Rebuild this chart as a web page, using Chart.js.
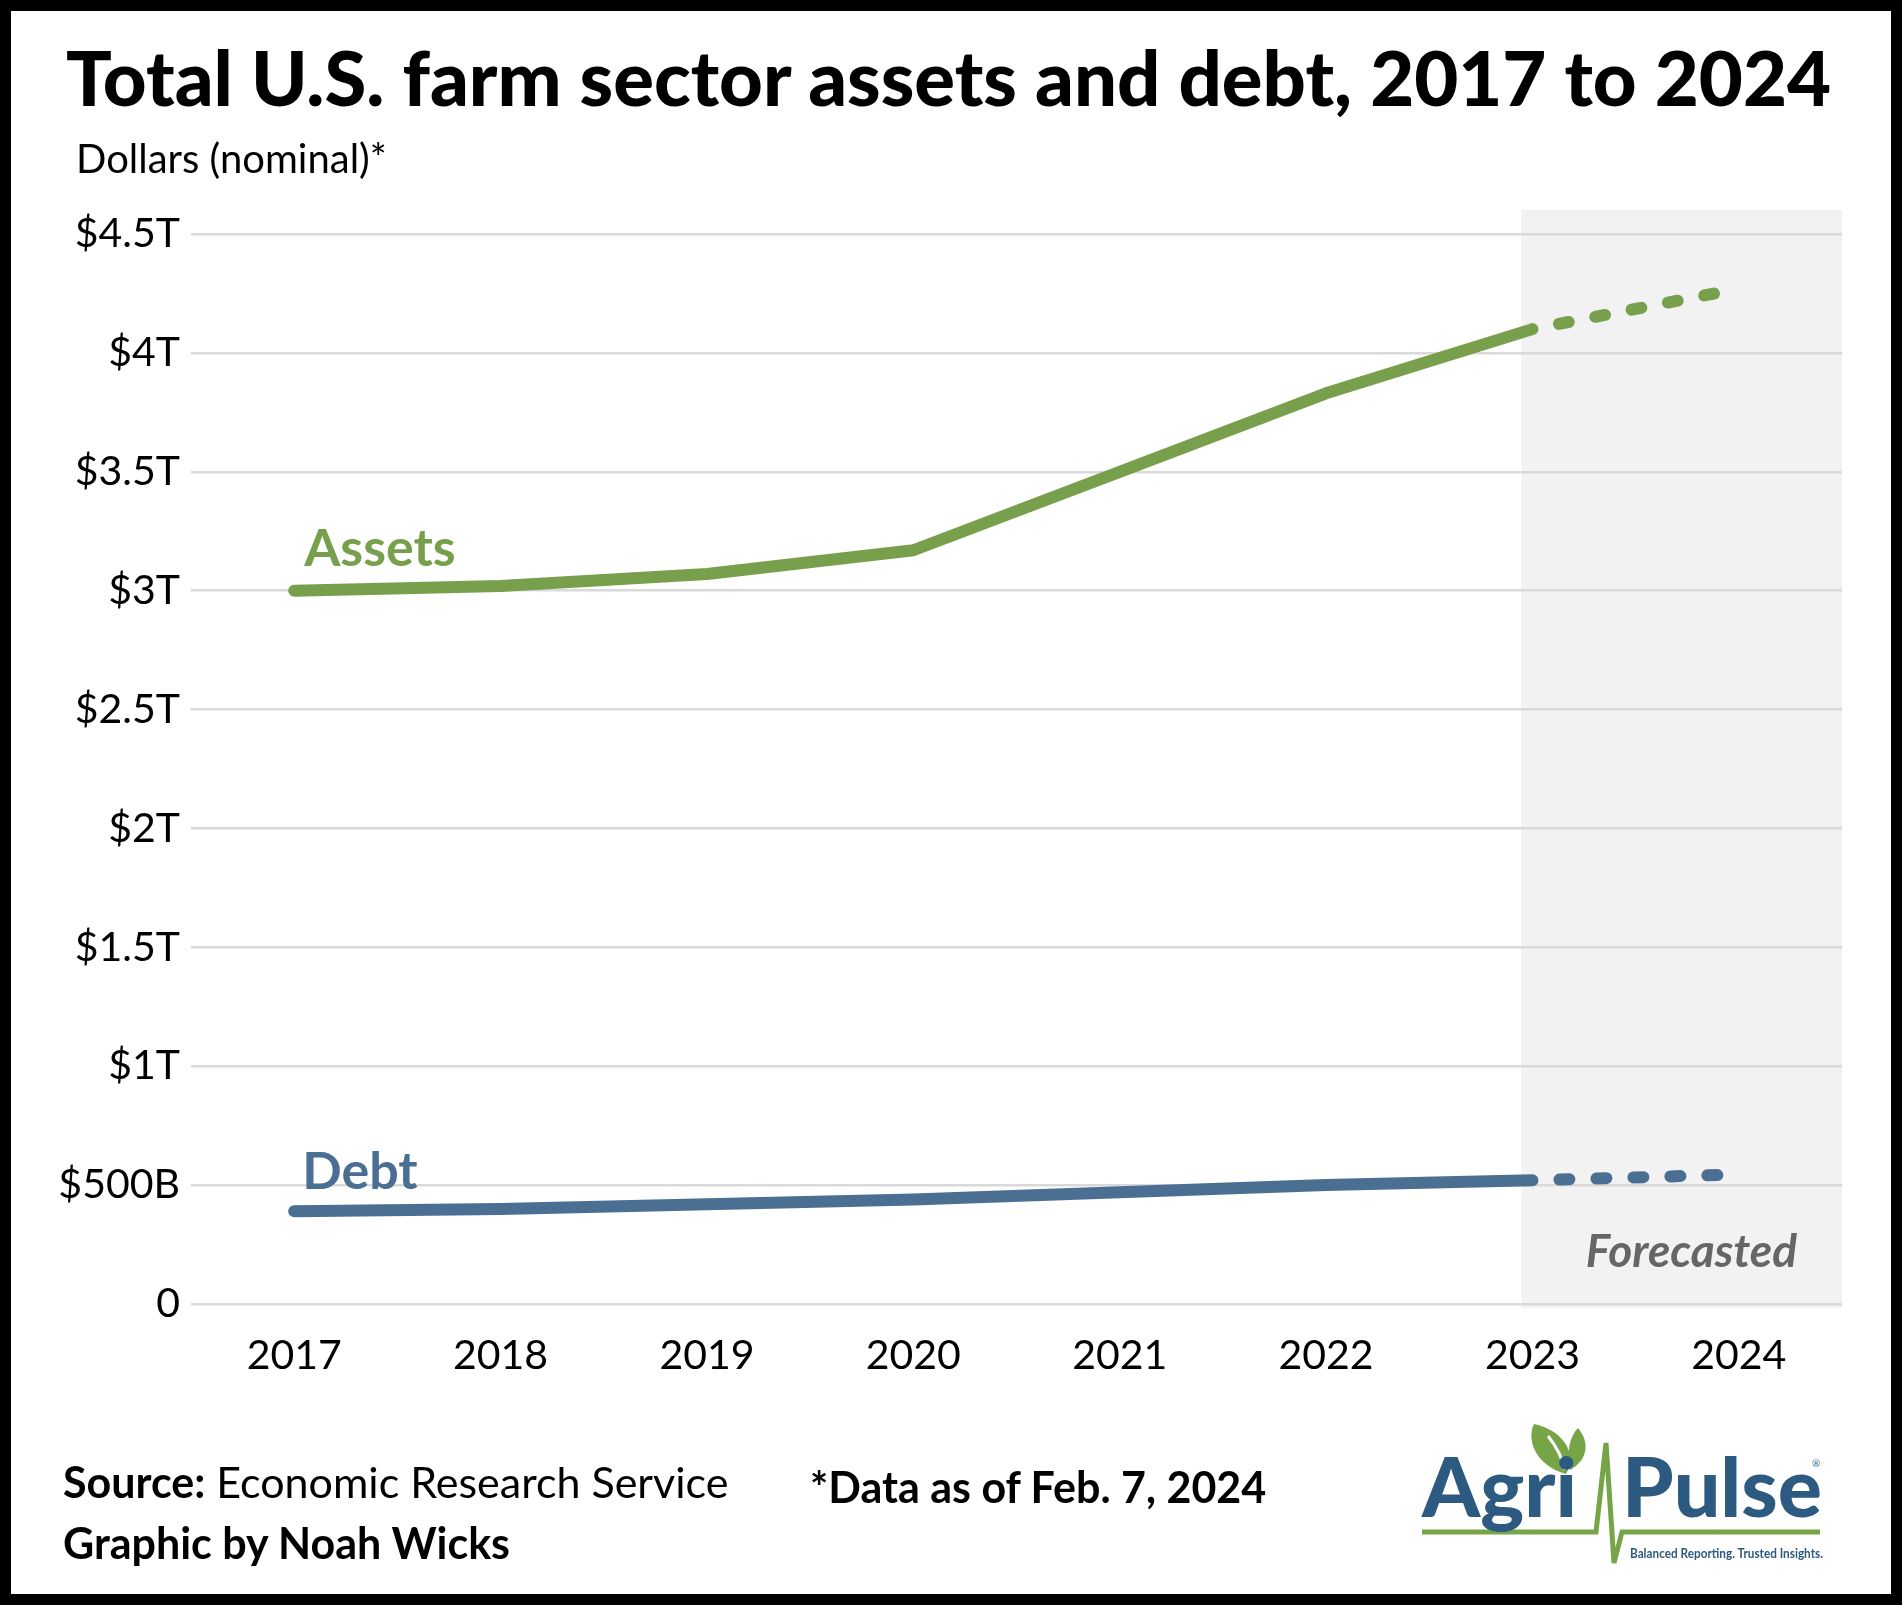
<!DOCTYPE html>
<html>
<head>
<meta charset="utf-8">
<script src="https://cdn.jsdelivr.net/npm/chart.js@4.4.1/dist/chart.umd.min.js"></script>
<style>
  html, body { margin: 0; padding: 0; background: #fff; }
  body { width: 1902px; height: 1605px; position: relative; overflow: hidden; font-family: Lato, "Noto Sans", sans-serif; }
  #frame { position: absolute; left: 0; top: 0; width: 1880px; height: 1583px; border: 11px solid #000; pointer-events: none; z-index: 10; }
  #chartWrap { position: absolute; left: 0; top: 0; width: 1902px; height: 1605px; }
  .title { position: absolute; left: 66px; top: 31px; font-size: 76px; font-weight: 900; color: #000; white-space: nowrap; line-height: 1.2; }
  .unit { position: absolute; left: 76px; top: 134px; font-size: 40px; color: #000; white-space: nowrap; line-height: 1.2; }
  .foot { position: absolute; font-size: 43px; color: #000; white-space: nowrap; line-height: 1.2; }
  .foot b { font-weight: 700; }
  #logo { position: absolute; left: 1400px; top: 1400px; }
</style>
</head>
<body>
<div id="chartWrap"><canvas id="chart" width="1902" height="1605"></canvas></div>
<div class="title">Total U.S. farm sector assets and debt, 2017 to 2024</div>
<div class="unit">Dollars (nominal)*</div>
<div class="foot" style="left:63px; top:1456px;"><b>Source:</b> Economic Research Service</div>
<div class="foot" style="left:63px; top:1517px;"><b>Graphic by Noah Wicks</b></div>
<div class="foot" style="left:810px; top:1461px;"><b>*Data as of Feb. 7, 2024</b></div>
<svg id="logo" width="450" height="200" viewBox="1400 1400 450 200">
  <path d="M1566 1474 C1536 1466 1526 1440 1534 1424 C1562 1430 1578 1452 1566 1474 Z" fill="#76a547"/>
  <path d="M1570 1470 C1566 1452 1570 1436 1578 1428 C1590 1442 1588 1460 1570 1470 Z" fill="#76a547"/>
  <path d="M1548 1436 C1556 1446 1562 1456 1565 1470" fill="none" stroke="#fff" stroke-width="3"/>
  <polyline points="1422,1532 1596,1532 1606,1443 1614,1563 1622,1532 1820,1532" fill="none" stroke="#76a547" stroke-width="5" stroke-linejoin="miter"/>
  <text x="1422" y="1517" font-family="Lato" font-weight="900" font-size="82" fill="#2d5a80" textLength="155" lengthAdjust="spacingAndGlyphs">Agri</text>
  <text x="1622" y="1517" font-family="Lato" font-weight="900" font-size="82" fill="#2d5a80" textLength="200" lengthAdjust="spacingAndGlyphs">Pulse</text>
  <text x="1812" y="1467" font-family="Lato" font-size="10" fill="#2d5a80">®</text>
  <text x="1630" y="1558" font-family="Lato" font-weight="700" font-size="14" fill="#2d5a80" textLength="193" lengthAdjust="spacingAndGlyphs">Balanced Reporting. Trusted Insights.</text>
</svg>
<div id="frame"></div>
<script>
const years = ["2017", "2018", "2019", "2020", "2021", "2022", "2023", "2024"];
// trillions of dollars
const assets = [3.00, 3.02, 3.07, 3.17, 3.50, 3.83, 4.10, 4.27];
const debt = [0.39, 0.40, 0.42, 0.44, 0.47, 0.50, 0.52, 0.545];
const yTickLabels = ["0", "$500B", "$1T", "$1.5T", "$2T", "$2.5T", "$3T", "$3.5T", "$4T", "$4.5T"];
const forecastStart = 6; // index of 2023, dashed after this

const GREEN = "#78a04c";
const BLUE = "#4b6f93";

const dashed = ctx => ctx.p0DataIndex >= forecastStart ? [10, 27] : undefined;

const overlay = {
  id: "overlay",
  beforeDraw(chart) {
    const { ctx, chartArea, scales } = chart;
    const x0 = scales.x.getPixelForValue(forecastStart) - 11;
    ctx.save();
    ctx.fillStyle = "#f2f2f2";
    ctx.fillRect(x0, chartArea.top - 24, chartArea.right - x0, chartArea.bottom - chartArea.top + 28);
    ctx.restore();
  },
  beforeDatasetsDraw(chart) {
    const { ctx, chartArea, scales } = chart;
    const xs = scales.x.getPixelForValue(0);
    ctx.save();
    ctx.font = "bold 52px Lato";
    ctx.textBaseline = "alphabetic";
    // Debt label sits on a white patch over the gridline
    const dw = ctx.measureText("Debt").width;
    ctx.fillStyle = "#fff";
    ctx.fillRect(xs - 4, scales.y.getPixelForValue(0.5) - 40, dw + 22, 30);
    ctx.fillStyle = BLUE;
    ctx.fillText("Debt", xs + 8, scales.y.getPixelForValue(0.5) + 4);
    ctx.fillStyle = GREEN;
    ctx.fillText("Assets", xs + 10, scales.y.getPixelForValue(3) - 25);
    ctx.font = "italic bold 46px Lato";
    ctx.fillStyle = "#666";
    ctx.textAlign = "right";
    ctx.fillText("Forecasted", chartArea.right - 45, chartArea.bottom - 37);
    ctx.restore();
  }
};

new Chart(document.getElementById("chart"), {
  type: "line",
  data: {
    labels: years,
    datasets: [
      {
        label: "Assets",
        data: assets,
        borderColor: GREEN,
        borderWidth: 12,
        borderCapStyle: "round",
        borderJoinStyle: "round",
        pointRadius: 0,
        segment: { borderDash: dashed, borderDashOffset: ctx => ctx.p0DataIndex >= forecastStart ? 10 : 0 }
      },
      {
        label: "Debt",
        data: debt,
        borderColor: BLUE,
        borderWidth: 12,
        borderCapStyle: "round",
        borderJoinStyle: "round",
        pointRadius: 0,
        segment: { borderDash: dashed, borderDashOffset: ctx => ctx.p0DataIndex >= forecastStart ? 10 : 0 }
      }
    ]
  },
  options: {
    responsive: false,
    animation: false,
    layout: { padding: { top: 234, right: 60, bottom: 221, left: 0 } },
    plugins: { legend: { display: false }, tooltip: { enabled: false } },
    scales: {
      x: {
        offset: true,
        grid: { display: false },
        border: { display: false },
        ticks: { color: "#000", font: { family: "Lato", size: 41 }, padding: 19, maxRotation: 0 },
        afterFit(scale) { scale.height = 80; }
      },
      y: {
        min: 0,
        max: 4.5,
        grid: { color: "#d9d9d9", lineWidth: 2.5, drawTicks: false },
        border: { display: false },
        ticks: {
          stepSize: 0.5,
          color: "#000",
          font: { family: "Lato", size: 41 },
          padding: 11,
          callback: (v, i) => yTickLabels[i]
        },
        afterFit(scale) { scale.width = 191; }
      }
    }
  },
  plugins: [overlay]
});
</script>
</body>
</html>
